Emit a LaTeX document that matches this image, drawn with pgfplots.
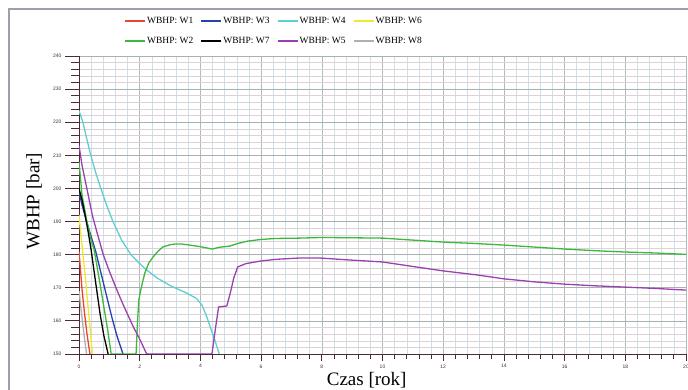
\documentclass[border=0pt]{standalone}
\usepackage{fontspec}
\setmainfont{Liberation Serif}
\setsansfont{Liberation Sans}
\usepackage{pgfplots}
\pgfplotsset{compat=1.18}
\definecolor{cW1}{RGB}{232,70,45}
\definecolor{cW2}{RGB}{60,184,60}
\definecolor{cW3}{RGB}{40,64,176}
\definecolor{cW4}{RGB}{94,207,207}
\definecolor{cW5}{RGB}{155,64,176}
\definecolor{cW6}{RGB}{240,232,48}
\definecolor{cW7}{RGB}{0,0,0}
\definecolor{cW8}{RGB}{176,176,176}
\definecolor{axcol}{RGB}{80,40,56}
\definecolor{framecol}{RGB}{165,155,170}
\definecolor{tickcol}{RGB}{60,50,60}
\definecolor{gxmaj}{RGB}{175,185,190}
\definecolor{gxmin}{RGB}{205,225,235}
\definecolor{gymaj}{RGB}{170,175,180}
\definecolor{gymin}{RGB}{222,210,212}
\begin{document}
\begin{tikzpicture}
\useasboundingbox (0,0) rectangle (688pt,389pt);
\draw[framecol, line width=1.5pt] (9pt,-2pt) -- (9pt,380pt) -- (690pt,380pt);
\begin{axis}[
  at={(79pt,35pt)}, anchor=south west,
  scale only axis, width=607pt, height=298pt,
  xmin=0, xmax=20, ymin=150, ymax=240,
  axis lines=left,
  axis line style={-, axcol, line width=0.9pt},
  x axis line style={-}, y axis line style={-},
  tick align=outside,
  xtick={0,2,...,20}, minor x tick num=4,
  ytick={150,160,...,240}, minor y tick num=4,
  xticklabels={},
  xtick style={draw=none},
  ytick style={axcol, line width=0.8pt},
  major tick length=14pt, minor tick length=8pt,
  grid=both,
  major x grid style={gxmaj, line width=0.6pt},
  minor x grid style={gxmin, line width=0.5pt},
  major y grid style={gymaj, line width=0.6pt},
  minor y grid style={gymin, line width=0.5pt},
  /pgf/number format/assume math mode=true,
  yticklabel style={font=\sffamily\fontsize{5}{6}\selectfont, text=tickcol, anchor=east},
  xlabel={Czas [rok]}, ylabel={WBHP [bar]},
  label style={font=\fontsize{19}{22}\selectfont},
  xlabel style={at={(axis description cs:0.474,0)}, anchor=base, yshift=-31pt},
  ylabel style={at={(axis description cs:-0.074,0.513)}, anchor=center},
  clip=true,
  legend columns=4,
  legend cell align=left,
  legend style={at={(axis description cs:0.0741,1.134)}, anchor=north west,
    draw=none, fill=none, inner sep=0pt, row sep=10.5pt,
    font=\fontsize{9.5}{11}\selectfont,
    nodes={inner sep=1pt},
    /tikz/every even column/.append style={column sep=6pt}},
  legend image code/.code={\draw[#1, line width=2pt] (0pt,0pt) -- (20pt,0pt);},
  every axis plot/.append style={line width=1.3pt},
]
% W1
\addplot[cW1] coordinates {(0,181)(0.1,169.5)(0.18,162.5)(0.26,156.3)(0.36,150)};
\addlegendentry{WBHP: W1}
% W3
\addplot[cW3] coordinates {(0,199)(0.1,195)(0.25,190)(0.4,185.5)(0.55,181)(0.75,173.5)(0.95,166)(1.1,160.5)(1.25,155.5)(1.45,150)};
\addlegendentry{WBHP: W3}
% W4
\addplot[cW4] coordinates {(0,223.5)(0.13,220)(0.25,215.2)(0.39,210)(0.55,204.8)(0.72,200)(0.92,194.7)(1.12,190)(1.4,184.5)(1.71,180)(2.0,177.3)(2.24,175.3)(2.6,172.8)(3.06,170.4)(3.5,168.6)(3.87,166.8)(4.05,164.8)(4.2,161.5)(4.35,157.5)(4.5,153.5)(4.62,150)};
\addlegendentry{WBHP: W4}
% W6
\addplot[cW6] coordinates {(0,192)(0.05,187)(0.12,181)(0.2,174)(0.33,161.2)(0.44,150)};
\addlegendentry{WBHP: W6}
% W2
\addplot[cW2] coordinates {(0,208)(0.1,198)(0.25,190.5)(0.4,184.4)(0.5,181.4)(0.65,173.5)(0.82,164.2)(0.95,157)(1.06,150)(1.88,150)(1.93,160)(1.97,166.3)(2.05,170)(2.17,174.5)(2.3,177.5)(2.44,179.3)(2.6,181)(2.76,182.3)(3.0,183)(3.16,183.2)(3.4,183.2)(3.65,182.9)(4.0,182.4)(4.4,181.7)(4.6,182.2)(4.97,182.6)(5.2,183.3)(5.56,184.1)(6.0,184.6)(6.5,184.9)(7.27,185.0)(8.0,185.2)(9.0,185.1)(10.0,185)(11,184.4)(12,183.8)(13,183.4)(14,182.9)(15,182.3)(16,181.7)(17,181.2)(18,180.8)(19,180.5)(20,180.1)};
\addlegendentry{WBHP: W2}
% W7
\addplot[cW7] coordinates {(0,200)(0.1,196.5)(0.2,192)(0.3,187)(0.4,181.4)(0.55,171.5)(0.7,161.8)(0.82,155.5)(0.96,150)};
\addlegendentry{WBHP: W7}
% W5
\addplot[cW5] coordinates {(0,213)(0.1,207)(0.27,199.5)(0.45,191.5)(0.6,186.5)(0.8,180)(1.0,175)(1.29,168.4)(1.5,164)(1.79,158.2)(2.0,154.5)(2.23,150)(4.38,150)(4.5,158)(4.6,164.2)(4.87,164.5)(5.0,169)(5.1,173)(5.23,176.3)(5.5,177.3)(6.0,178.1)(6.5,178.6)(7.27,179)(7.93,179)(8.9,178.4)(10,177.8)(11.1,176.3)(12,175.1)(13.1,173.9)(14,172.7)(15,171.8)(16,171.1)(17,170.6)(18,170.2)(19,169.8)(20,169.3)};
\addlegendentry{WBHP: W5}
% W8
\addplot[cW8] coordinates {(0,169)(0.07,163.3)(0.15,157)(0.23,151.2)(0.25,150)};
\addlegendentry{WBHP: W8}
\end{axis}
\begin{axis}[
  at={(79pt,35pt)}, anchor=south west,
  scale only axis, width=607pt, height=298pt,
  xmin=0, xmax=20, ymin=150, ymax=240,
  axis x line=bottom, axis y line=none,
  axis line style={-, axcol, line width=0.9pt},
  x axis line style={-},
  tick align=outside,
  xtick={0,2,...,20}, minor x tick num=4,
  ytick=\empty,
  xtick style={axcol, line width=0.8pt},
  major tick length=7pt, minor tick length=4.5pt,
  /pgf/number format/assume math mode=true,
  xticklabel style={font=\sffamily\fontsize{5}{6}\selectfont, text=tickcol},
]
\end{axis}
\end{tikzpicture}
\end{document}
